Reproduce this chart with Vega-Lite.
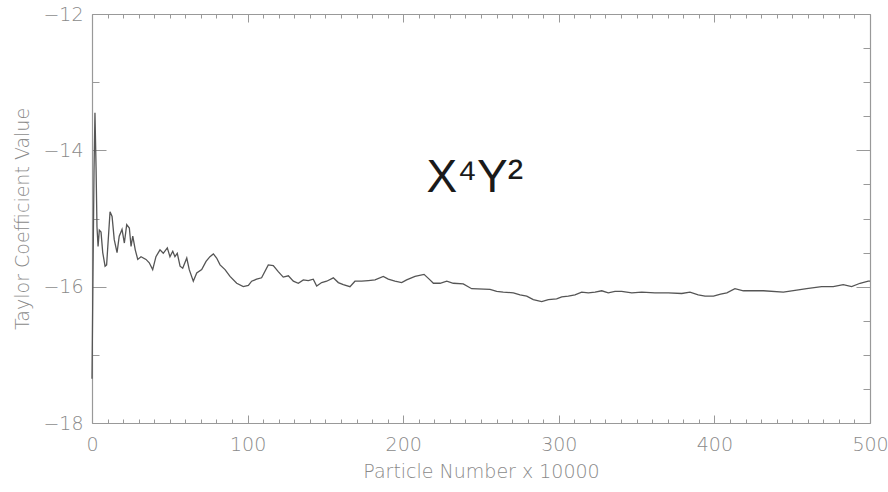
{
  "$schema": "https://vega.github.io/schema/vega-lite/v6.json",
  "width": 778,
  "height": 409,
  "autosize": {"type": "none"},
  "padding": {"left": 92, "top": 14, "right": 18, "bottom": 69},
  "background": "white",
  "config": {
    "view": {"stroke": null},
    "axis": {
      "domainColor": "#999999",
      "tickColor": "#999999",
      "labelColor": "#8a8a8a",
      "titleColor": "#8a8a8a",
      "labelFont": "DejaVu Sans",
      "titleFont": "DejaVu Sans",
      "labelFontWeight": 200,
      "titleFontWeight": 200,
      "grid": false,
      "domainWidth": 1.2,
      "tickWidth": 1
    }
  },
  "datasets": {
    "series": [
      {"n": 0, "v": -17.35}, {"n": 0.6, "v": -15.9}, {"n": 1.3, "v": -14.3}, {"n": 1.9, "v": -13.45},
      {"n": 2.6, "v": -14.24}, {"n": 3.2, "v": -15.12}, {"n": 3.9, "v": -15.41}, {"n": 4.7, "v": -15.17},
      {"n": 5.8, "v": -15.2}, {"n": 6.9, "v": -15.5}, {"n": 8.4, "v": -15.7}, {"n": 9.4, "v": -15.68},
      {"n": 11.6, "v": -14.9}, {"n": 12.9, "v": -14.97}, {"n": 14.3, "v": -15.31}, {"n": 16.1, "v": -15.5},
      {"n": 17.5, "v": -15.26}, {"n": 19.3, "v": -15.16}, {"n": 20.8, "v": -15.36}, {"n": 22.3, "v": -15.09},
      {"n": 24, "v": -15.14}, {"n": 25.1, "v": -15.41}, {"n": 26.2, "v": -15.26}, {"n": 27.8, "v": -15.46},
      {"n": 29.4, "v": -15.6}, {"n": 31.5, "v": -15.56}, {"n": 34.7, "v": -15.6}, {"n": 36.8, "v": -15.65},
      {"n": 39, "v": -15.75}, {"n": 41.1, "v": -15.56}, {"n": 43.7, "v": -15.46}, {"n": 45.8, "v": -15.51},
      {"n": 48.4, "v": -15.43}, {"n": 50.1, "v": -15.56}, {"n": 51.9, "v": -15.48}, {"n": 53.3, "v": -15.56},
      {"n": 54.8, "v": -15.51}, {"n": 56.6, "v": -15.7}, {"n": 58.3, "v": -15.73}, {"n": 60.9, "v": -15.58},
      {"n": 62.5, "v": -15.75}, {"n": 65.1, "v": -15.92}, {"n": 67.3, "v": -15.8}, {"n": 70.5, "v": -15.75},
      {"n": 73.3, "v": -15.63}, {"n": 75.8, "v": -15.56}, {"n": 78, "v": -15.52}, {"n": 80.1, "v": -15.58},
      {"n": 82.3, "v": -15.68}, {"n": 85.5, "v": -15.75}, {"n": 88.7, "v": -15.85}, {"n": 93, "v": -15.95},
      {"n": 97.2, "v": -16.0}, {"n": 100.5, "v": -15.98}, {"n": 102.6, "v": -15.92}, {"n": 105.8, "v": -15.89},
      {"n": 109, "v": -15.87}, {"n": 113.3, "v": -15.68}, {"n": 116.5, "v": -15.69}, {"n": 119.7, "v": -15.78},
      {"n": 122.9, "v": -15.86}, {"n": 126.2, "v": -15.84}, {"n": 129.4, "v": -15.92}, {"n": 132.6, "v": -15.95},
      {"n": 135.8, "v": -15.9}, {"n": 139, "v": -15.91}, {"n": 142.2, "v": -15.89}, {"n": 144.4, "v": -15.99},
      {"n": 147.6, "v": -15.94}, {"n": 150.8, "v": -15.92}, {"n": 155.1, "v": -15.87}, {"n": 158.3, "v": -15.94},
      {"n": 161.5, "v": -15.97}, {"n": 165.8, "v": -16.0}, {"n": 169, "v": -15.92}, {"n": 173.3, "v": -15.92},
      {"n": 177.6, "v": -15.91}, {"n": 181.9, "v": -15.9}, {"n": 187.2, "v": -15.85}, {"n": 190.4, "v": -15.89},
      {"n": 194.7, "v": -15.92}, {"n": 199, "v": -15.94}, {"n": 202.2, "v": -15.9}, {"n": 207.6, "v": -15.85},
      {"n": 213.4, "v": -15.82}, {"n": 217.2, "v": -15.9}, {"n": 219.4, "v": -15.95}, {"n": 223.7, "v": -15.95},
      {"n": 228, "v": -15.92}, {"n": 232.2, "v": -15.95}, {"n": 238.6, "v": -15.96}, {"n": 244, "v": -16.03},
      {"n": 255.8, "v": -16.04}, {"n": 260.1, "v": -16.07}, {"n": 264.3, "v": -16.08}, {"n": 270.8, "v": -16.09},
      {"n": 275.1, "v": -16.12}, {"n": 279.4, "v": -16.14}, {"n": 283.6, "v": -16.19}, {"n": 289, "v": -16.22},
      {"n": 293.3, "v": -16.19}, {"n": 298.6, "v": -16.18}, {"n": 301.9, "v": -16.15}, {"n": 306.1, "v": -16.14},
      {"n": 310.4, "v": -16.12}, {"n": 314.7, "v": -16.08}, {"n": 319, "v": -16.09}, {"n": 323.3, "v": -16.08},
      {"n": 327.6, "v": -16.06}, {"n": 331.8, "v": -16.09}, {"n": 336.1, "v": -16.07}, {"n": 340.4, "v": -16.07},
      {"n": 346.9, "v": -16.09}, {"n": 353.3, "v": -16.08}, {"n": 361.8, "v": -16.09}, {"n": 370.4, "v": -16.09},
      {"n": 379, "v": -16.1}, {"n": 384.3, "v": -16.08}, {"n": 389.6, "v": -16.12}, {"n": 394, "v": -16.14},
      {"n": 399.4, "v": -16.14}, {"n": 404, "v": -16.11}, {"n": 408, "v": -16.09}, {"n": 413.2, "v": -16.03},
      {"n": 418.6, "v": -16.06}, {"n": 431.5, "v": -16.06}, {"n": 444.3, "v": -16.08}, {"n": 452.9, "v": -16.05},
      {"n": 459.3, "v": -16.03}, {"n": 468.9, "v": -16.0}, {"n": 476.4, "v": -16.0}, {"n": 482.8, "v": -15.97},
      {"n": 488.2, "v": -16.0}, {"n": 493.6, "v": -15.95}, {"n": 498.9, "v": -15.92}, {"n": 500, "v": -15.92}
    ],
    "label": [{"n": 246, "v": -14.61, "t": "X⁴Y²"}]
  },
  "layer": [
    {
      "data": {"name": "series"},
      "mark": {"type": "line", "color": "#555555", "strokeWidth": 1.3, "interpolate": "linear"},
      "encoding": {
        "x": {
          "field": "n", "type": "quantitative",
          "scale": {"domain": [0, 500], "nice": false, "zero": false},
          "axis": {
            "orient": "bottom",
            "title": "Particle Number x 10000",
            "titleFontSize": 19,
            "titlePadding": 4,
            "labelFontSize": 19,
            "labelPadding": 20,
            "format": "d",
            "values": [0,10,20,30,40,50,60,70,80,90,100,110,120,130,140,150,160,170,180,190,200,210,220,230,240,250,260,270,280,290,300,310,320,330,340,350,360,370,380,390,400,410,420,430,440,450,460,470,480,490,500],
            "labelExpr": "datum.value % 100 === 0 ? datum.label : ''",
            "tickSize": {"condition": {"test": "datum.value % 100 === 0", "value": -8}, "value": -4},
            "labelFlush": false,
            "labelOverlap": false
          }
        },
        "y": {
          "field": "v", "type": "quantitative",
          "scale": {"domain": [-18, -12], "nice": false, "zero": false},
          "axis": {
            "orient": "left",
            "title": "Taylor Coefficient Value",
            "titleFontSize": 19,
            "titlePadding": 10,
            "labelFontSize": 19,
            "labelPadding": 23,
            "format": "d",
            "values": [-18,-17.5,-17,-16.5,-16,-15.5,-15,-14.5,-14,-13.5,-13,-12.5,-12],
            "labelExpr": "datum.value % 2 === 0 ? datum.label : ''",
            "tickSize": {"condition": {"test": "datum.value % 2 === 0", "value": -14}, "value": -7},
            "labelFlush": false,
            "labelOverlap": false
          }
        }
      }
    },
    {
      "data": {"name": "label"},
      "mark": {"type": "text", "font": "Liberation Sans", "fontSize": 46, "color": "#1a1a1a", "align": "center", "baseline": "alphabetic"},
      "encoding": {
        "text": {"field": "t"},
        "x": {
          "field": "n", "type": "quantitative",
          "scale": {"domain": [0, 500], "nice": false, "zero": false},
          "axis": {
            "orient": "top",
            "title": null,
            "labels": false,
            "values": [0,10,20,30,40,50,60,70,80,90,100,110,120,130,140,150,160,170,180,190,200,210,220,230,240,250,260,270,280,290,300,310,320,330,340,350,360,370,380,390,400,410,420,430,440,450,460,470,480,490,500],
            "tickSize": {"condition": {"test": "datum.value % 100 === 0", "value": -8}, "value": -4}
          }
        },
        "y": {
          "field": "v", "type": "quantitative",
          "scale": {"domain": [-18, -12], "nice": false, "zero": false},
          "axis": {
            "orient": "right",
            "title": null,
            "labels": false,
            "values": [-18,-17.5,-17,-16.5,-16,-15.5,-15,-14.5,-14,-13.5,-13,-12.5,-12],
            "tickSize": {"condition": {"test": "datum.value % 2 === 0", "value": -14}, "value": -7}
          }
        }
      }
    }
  ],
  "resolve": {"axis": {"x": "independent", "y": "independent"}}
}
